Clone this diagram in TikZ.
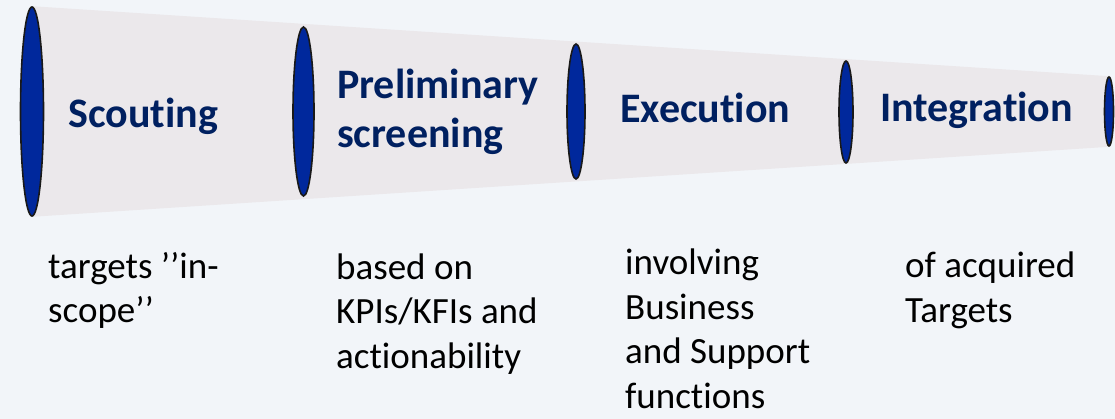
\documentclass[tikz,border=0pt]{standalone}
\usepackage{fontspec}
\setmainfont{Carlito}[Ligatures={NoCommon}]
\usetikzlibrary{shapes.geometric,backgrounds}
\definecolor{pagebg}{HTML}{F2F5F9}
\definecolor{funnelgray}{HTML}{EBE8EB}
\definecolor{ringblue}{HTML}{00289C}
\definecolor{titleblue}{HTML}{002060}
\tikzset{
  ring/.style={ellipse, draw=black!90, line width=1.6pt, fill=ringblue, inner sep=0pt},
  % multi-line nodes are placed by the baseline of their last line
  stagetitle/.style={anchor=base west, inner sep=0pt, align=left, text=titleblue,
    font=\fontsize{42}{49}\selectfont\bfseries},
  stagenote/.style={anchor=base west, inner sep=0pt, align=left, text=black,
    font=\fontsize{37}{44.5}\selectfont},
}
\begin{document}
\begin{tikzpicture}[x=1pt, y=-1pt]
  \useasboundingbox (0,0) rectangle (1115,419);
  % rings along the funnel, narrowing to the right
  \node[ring, minimum width=23pt, minimum height=209pt] (r1) at (32,111.5) {};
  \node[ring, minimum width=21pt, minimum height=169pt] (r2) at (303.5,111.5) {};
  \node[ring, minimum width=18pt, minimum height=135pt] (r3) at (576,111.5) {};
  \node[ring, minimum width=14pt, minimum height=102pt] (r4) at (846,112) {};
  \node[ring, minimum width=9pt, minimum height=69pt] (r5) at (1109,111.5) {};
  % funnel body and page behind the rings
  \begin{scope}[on background layer]
    \fill[pagebg] (0,0) rectangle (1115,419);
    \fill[funnelgray] (r1.north) -- (r5.north) -- (r5.south) -- (r1.south) -- cycle;
  \end{scope}
  % stage names
  \node[stagetitle] (t1) at (68,128) {Scouting};
  \node[stagetitle] (t2) at (337,148) {Preliminary\\screening};
  \node[stagetitle] (t3) at (620,123) {Execution};
  \node[stagetitle] (t4) at (880,122) {Integration};
  % notes below each stage
  \node[stagenote] (n1) at (48,323) {targets ’’in-\\scope’’};
  \node[stagenote] (n2) at (336,368) {based on\\KPIs/KFIs and\\actionability};
  \node[stagenote] (n3) at (625,408) {involving\\Business\\and Support\\functions};
  \node[stagenote] (n4) at (905,322) {of acquired\\Targets};
\end{tikzpicture}
\end{document}
